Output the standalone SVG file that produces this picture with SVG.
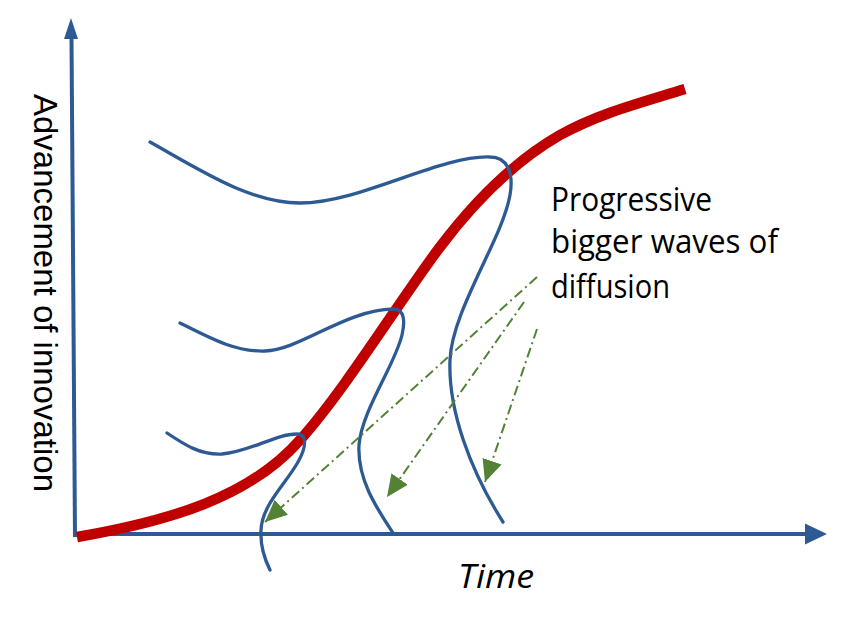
<svg xmlns="http://www.w3.org/2000/svg" width="866" height="620" viewBox="0 0 866 620">
<defs>
<style>
.axis{stroke:#2E5A94;stroke-width:4;fill:none}
.head{fill:#2E5A94}
.wave{stroke:#2E5A94;stroke-width:3.3;fill:none;stroke-linecap:round}
.scurve{stroke:#C00000;stroke-width:10.5;fill:none}
.pointer{stroke:#548235;stroke-width:2;fill:none;stroke-dasharray:10 4 2 4}
.lbl{font-family:"Open Sans","Noto Sans","Liberation Sans",sans-serif;font-size:32px;fill:#000}
.ylbl{font-family:"Liberation Sans",Arial,sans-serif;font-size:33.5px;fill:#000}
</style>
<marker id="gArrow" markerUnits="userSpaceOnUse" markerWidth="24" markerHeight="22" refX="22" refY="10" orient="auto" viewBox="0 0 24 22">
<path d="M0,0 L22,10 L0,20 Z" fill="#548235"/>
</marker>
</defs>
<rect width="866" height="620" fill="#fff"/>
<g id="axes">
<line class="axis" x1="71.5" y1="38" x2="75" y2="537"/>
<polygon class="head" points="71,18 78,39 64,39"/>
<line class="axis" x1="74" y1="534" x2="806" y2="534"/>
<polygon class="head" points="827,534 805,523.5 805,544.5"/>
</g>
<g id="s-curve">
<path class="scurve" d="M77,537 C170,521 250,497 300,440 C345,390 400,300 440,247 C480,194 520,158 560,135 C600,113 640,103 685,89"/>
</g>
<g id="wave-1">
<path class="wave" d="M150,142 C200,170 250,203 300,203 C360,203 440,155 490,157 C507,157 514,172 510,195 C502,240 452,310 450,360 C448,410 470,470 503,522"/>
</g>
<g id="wave-2">
<path class="wave" d="M180,323 C210,338 235,352 265,351 C300,350 345,310 393,309 C405,309 405,322 402,335 C395,365 362,410 359,445 C357,480 378,510 393,533"/>
</g>
<g id="wave-3">
<path class="wave" d="M167,433 C185,445 200,455 222,454 C250,452 275,434 297,434 C308,434 306,448 298,462 C285,485 262,505 261,530 C260,548 265,560 270,570"/>
</g>
<g id="connectors">
<line class="pointer" x1="537" y1="277" x2="265" y2="522" marker-end="url(#gArrow)"/>
<line class="pointer" x1="524" y1="302" x2="387" y2="497" marker-end="url(#gArrow)"/>
<line class="pointer" x1="537" y1="329" x2="485" y2="482" marker-end="url(#gArrow)"/>
</g>
<g id="label-waves">
<text class="lbl" x="551" y="211" textLength="161" lengthAdjust="spacingAndGlyphs">Progressive</text>
<text class="lbl" x="551" y="253" textLength="227" lengthAdjust="spacingAndGlyphs">bigger waves of</text>
<text class="lbl" x="551" y="298" textLength="119" lengthAdjust="spacingAndGlyphs">diffusion</text>
</g>
<g id="label-y">
<text class="ylbl" transform="translate(34,94) rotate(90)" textLength="398" lengthAdjust="spacingAndGlyphs">Advancement of innovation</text>
</g>
<g id="label-x">
<text class="lbl" x="458" y="588" font-style="italic" font-size="34" textLength="76" lengthAdjust="spacingAndGlyphs">Time</text>
</g>
</svg>
